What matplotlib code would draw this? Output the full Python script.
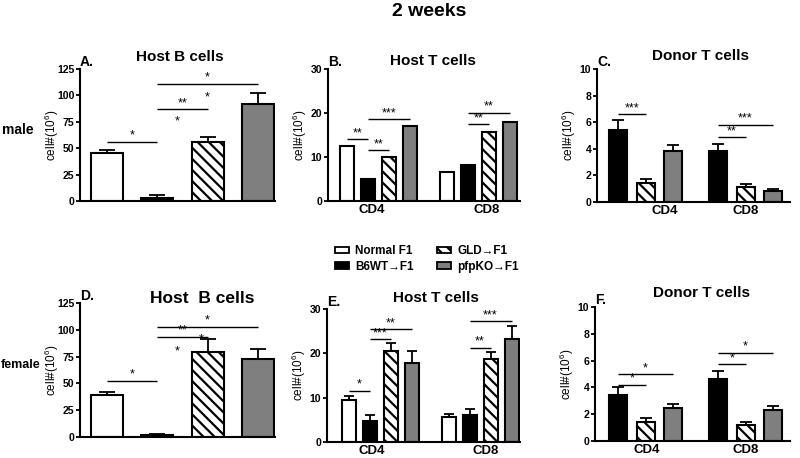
import numpy as np
import matplotlib
matplotlib.use("Agg")
import matplotlib.pyplot as plt
from matplotlib.patches import Patch

plt.rcParams['font.family'] = ['Liberation Sans', 'DejaVu Sans']
plt.rcParams['font.weight'] = 'bold'
plt.rcParams['hatch.linewidth'] = 1.6

W, H = 800, 458

groups = ['Normal F1', 'B6WT\u2192F1', 'GLD\u2192F1', 'pfpKO\u2192F1']
colors = ['white', 'black', 'white', '#7f7f7f']
hatches = ['', '', '\\\\\\', '']
subsets = ['CD4', 'CD8']

# A: male host B cells (one bar per group)
a_vals = [45.5, 3.0, 56.0, 92.0]
a_err = [48.5, 6.0, 61.0, 102.0]
# D: female host B cells
d_vals = [38.8, 2.0, 79.0, 72.5]
d_err = [41.8, 3.0, 91.5, 82.5]

# B: male host T cells, rows = CD4, CD8
b_vals = [[12.6, 5.1, 10.0, 17.1], [6.6, 8.1, 15.6, 18.0]]
# E: female host T cells
e_vals = [[9.5, 4.7, 20.6, 17.9], [5.6, 6.2, 18.8, 23.2]]
e_err = [[10.3, 6.0, 22.4, 20.6], [6.3, 7.5, 20.3, 26.1]]

# C / F: donor T cells (B6WT, GLD, pfpKO)
c_vals = [[5.45, 1.45, 3.85], [3.85, 1.1, 0.85]]
c_err = [[6.2, 1.7, 4.25], [4.35, 1.35, 1.0]]
f_vals = [[3.45, 1.45, 2.5], [4.6, 1.2, 2.3]]
f_err = [[4.0, 1.7, 2.75], [5.25, 1.42, 2.62]]

# significance: (group, bar1, bar2, y, label)
a_sig = [(0, 0, 1, 56, '*'), (0, 1, 2, 87, '**'), (0, 1, 3, 111, '*')]
a_extra = [(2.0, 98.5, '*'), (1.4, 75, '*')]
d_sig = [(0, 0, 1, 52.5, '*'), (0, 1, 2, 93.5, '**'), (0, 1, 3, 103, '*')]
d_extra = [(1.4, 80, '*'), (1.88, 91, '*')]
b_sig = [(0, 0, 1, 14.1, '**'), (0, 1, 2, 11.6, '**'), (0, 1, 3, 18.6, '***'),
         (1, 1, 2, 17.5, '**'), (1, 1, 3, 20.1, '**')]
e_sig = [(0, 0, 1, 11.6, '*'), (0, 1, 2, 23.2, '***'), (0, 1, 3, 25.5, '**'),
         (1, 1, 2, 21.3, '**'), (1, 1, 3, 27.3, '***')]
c_sig = [(0, 0, 1, 6.6, '***'), (1, 0, 1, 4.85, '**'), (1, 0, 2, 5.8, '***')]
f_sig = [(0, 0, 1, 4.2, '*'), (0, 0, 2, 5.0, '*'), (1, 0, 1, 5.75, '*'), (1, 0, 2, 6.6, '*')]


def px_axes(fig, l, r, t, b):
    return fig.add_axes([l / W, (H - b) / H, (r - l) / W, (b - t) / H])


def style(ax, ymax, step, letter, title, tx, ty, tsize):
    ax.set_ylim(0, ymax)
    ax.set_yticks(np.arange(0, ymax + 0.01, step))
    for s in ['top', 'right']:
        ax.spines[s].set_visible(False)
    for s in ['left', 'bottom']:
        ax.spines[s].set_linewidth(1.5)
    ax.tick_params(axis='y', length=3, width=1.3, labelsize=7.6, pad=1)
    ax.tick_params(axis='x', length=0, labelsize=9.5, pad=2)
    ax.set_ylabel('cell#(10$^{\\mathregular{6}}$)', fontsize=8.5)
    w_px = ax.get_position().width * W
    ax.yaxis.set_label_coords(-19 / w_px, 0.5)
    ax.text(0.0, 1.0, letter, transform=ax.transAxes, fontsize=10, ha='left', va='bottom')
    ax.text(tx, ty, title, transform=ax.transAxes, fontsize=tsize, ha='center', va='center')


def sig(ax, x1, x2, y, lab):
    ax.plot([x1, x2], [y, y], color='black', lw=1.0, solid_capstyle='butt')
    ax.text((x1 + x2) / 2, y, lab, ha='center', va='bottom', fontsize=9, fontweight='normal')


def single(ax, vals, err, sigs, extra):
    x = np.arange(4)
    for i in range(4):
        ax.bar(x[i], vals[i], width=0.64, color=colors[i], edgecolor='black',
               hatch=hatches[i], linewidth=1.5, zorder=2)
    up = np.array(err) - np.array(vals)
    ax.errorbar(x, vals, yerr=[np.zeros(4), up], fmt='none', ecolor='black',
                elinewidth=1.3, capsize=6, capthick=1.3, zorder=1)
    for g, i1, i2, y, lab in sigs:
        sig(ax, x[i1], x[i2], y, lab)
    for xx, yy, lab in extra:
        ax.text(xx, yy, lab, ha='center', va='center', fontsize=9, fontweight='normal')
    ax.set_xlim(-0.54, 3.34)
    ax.set_xticks([])


def grouped(ax, vals, err, sigs, offs, width, bcolors, bhatch, xlim, ticks, caps):
    for g in range(2):
        xs = g + np.array(offs)
        for i, xx in enumerate(xs):
            ax.bar(xx, vals[g][i], width=width, color=bcolors[i], edgecolor='black',
                   hatch=bhatch[i], linewidth=1.5, zorder=2)
        if err is not None:
            up = np.array(err[g]) - np.array(vals[g])
            ax.errorbar(xs, vals[g], yerr=[np.zeros(len(xs)), up], fmt='none',
                        ecolor='black', elinewidth=1.3, capsize=caps, capthick=1.3, zorder=1)
    for g, i1, i2, y, lab in sigs:
        sig(ax, g + offs[i1], g + offs[i2], y, lab)
    ax.set_xlim(*xlim)
    ax.set_xticks(ticks)
    ax.set_xticklabels(subsets)


fig = plt.figure(figsize=(W / 100, H / 100), dpi=100)
fig.text(429 / W, 1 - 12 / H, '2 weeks', ha='center', va='center', fontsize=14)
fig.text(18 / W, 1 - 130 / H, 'male', ha='center', va='center', fontsize=10)
fig.text(21 / W, 1 - 365 / H, 'female', ha='center', va='center', fontsize=9)

off4 = [-0.315, -0.105, 0.105, 0.315]
off3 = [-0.275, 0.0, 0.275]

axA = px_axes(fig, 80, 275, 69, 201)
single(axA, a_vals, a_err, a_sig, a_extra)
style(axA, 125, 25, 'A.', 'Host B cells', 0.51, 1.09, 11)

axB = px_axes(fig, 328, 520, 69, 201)
grouped(axB, b_vals, None, b_sig, off4, 0.14, colors, hatches, (-0.505, 1.415), [-0.065, 1.08], 0)
style(axB, 30, 10, 'B.', 'Host T cells', 0.547, 1.06, 11)

axC = px_axes(fig, 597, 790, 69, 202)
grouped(axC, c_vals, c_err, c_sig, off3, 0.18, colors[1:], hatches[1:], (-0.485, 1.445), [0.19, 1.0], 4.5)
style(axC, 10, 2, 'C.', 'Donor T cells', 0.534, 1.1, 11)

axD = px_axes(fig, 80, 275, 303, 437)
single(axD, d_vals, d_err, d_sig, d_extra)
style(axD, 125, 25, 'D.', 'Host  B cells', 0.627, 1.03, 12.5)

axE = px_axes(fig, 327, 520, 309, 442)
grouped(axE, e_vals, e_err, e_sig, off4, 0.14, colors, hatches, (-0.53, 1.40), [-0.085, 1.06], 3.5)
style(axE, 30, 10, 'E.', 'Host T cells', 0.565, 1.085, 11)

axF = px_axes(fig, 595, 790, 307, 441)
grouped(axF, f_vals, f_err, f_sig, off3, 0.18, colors[1:], hatches[1:], (-0.505, 1.445), [0.015, 1.0], 4.5)
style(axF, 10, 2, 'F.', 'Donor T cells', 0.544, 1.107, 11)

handles = [Patch(facecolor=c, edgecolor='black', hatch=h, linewidth=1.3)
           for c, h in zip(colors, hatches)]
fig.legend(handles, groups, loc='center left', bbox_to_anchor=(335 / W, 1 - 259 / H), ncol=2,
           frameon=False, fontsize=8.5, handlelength=1.2, handleheight=0.5,
           columnspacing=2.0, labelspacing=0.3, handletextpad=0.5,
           borderpad=0, borderaxespad=0)

fig.savefig('out.png', dpi=100)
